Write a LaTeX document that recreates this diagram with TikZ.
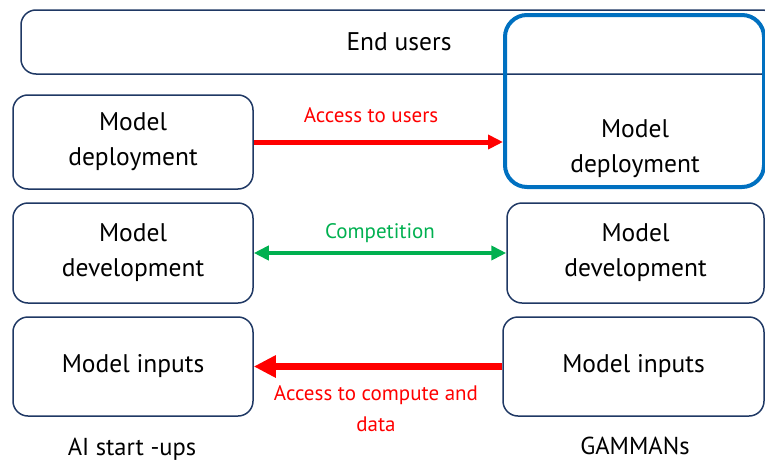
\documentclass[tikz,border=0pt]{standalone}
\usepackage{fontspec}
\setmainfont{PT Sans}
\usetikzlibrary{arrows.meta}
\definecolor{boxline}{HTML}{1F3864}
\definecolor{accred}{HTML}{FF0000}
\definecolor{compgreen}{HTML}{00B050}
\definecolor{hiblue}{HTML}{0070C0}
\tikzset{
  stagebox/.style={draw=boxline, line width=1.5pt, rounded corners=15pt,
    rectangle, inner sep=0pt, align=center, font=\fontsize{25.5}{35}\selectfont},
  plainlabel/.style={align=center, font=\fontsize{25.5}{35}\selectfont},
  arrowlabel/.style={align=center, font=\fontsize{21}{31}\selectfont},
  sidelabel/.style={font=\fontsize{24.5}{28}\selectfont},
}
\begin{document}
\begin{tikzpicture}[x=1pt,y=-1pt]
  \useasboundingbox (0,0) rectangle (765,463);
  \clip (0,0) rectangle (765,463);

  % top layer: end users (runs past the right edge)
  \node[stagebox, minimum width=756pt, minimum height=64pt] (eu) at (399,42) {End users};

  % AI start-ups column
  \node[stagebox, minimum width=240pt, minimum height=94pt] (ld) at (133,142) {Model\\deployment};
  \node[stagebox, minimum width=240pt, minimum height=100pt] (lv) at (133,253) {Model\\development};
  \node[stagebox, minimum width=240pt, minimum height=99pt] (li) at (133,366.5) {Model inputs};

  % GAMMANs column
  \node[stagebox, draw=hiblue, line width=4pt, rounded corners=22pt,
        minimum width=259pt, minimum height=172pt] (rd) at (634.5,101) {};
  \node[plainlabel] (rdt) at (635,149) {Model\\deployment};
  \node[stagebox, minimum width=257pt, minimum height=100pt] (rv) at (635.5,253) {Model\\development};
  \node[stagebox, minimum width=261pt, minimum height=99pt] (ri) at (633.5,366.5) {Model inputs};

  % connectors
  \draw[accred, line width=5pt, -{Triangle[length=15pt,width=14pt]}]
    (ld.east) -- (rd.west |- ld.east);
  \draw[compgreen, line width=4pt, {Triangle[length=15pt,width=14pt]}-{Triangle[length=15pt,width=14pt]}]
    (lv.east) -- (rv.west);
  \draw[accred, line width=7pt, -{Triangle[length=22pt,width=21pt]}]
    (ri.west) -- (li.east);

  % connector labels
  \node[arrowlabel, text=accred] (l1) at (371,115) {Access to users};
  \node[arrowlabel, text=compgreen] (l2) at (380,233) {Competition};
  \node[arrowlabel, text=accred] (l3) at (376,409) {Access to compute and\\data};

  % column captions
  \node[sidelabel] (cl) at (132,449) {AI start -ups};
  \node[sidelabel] (cr) at (635,446) {GAMMANs};
\end{tikzpicture}
\end{document}
